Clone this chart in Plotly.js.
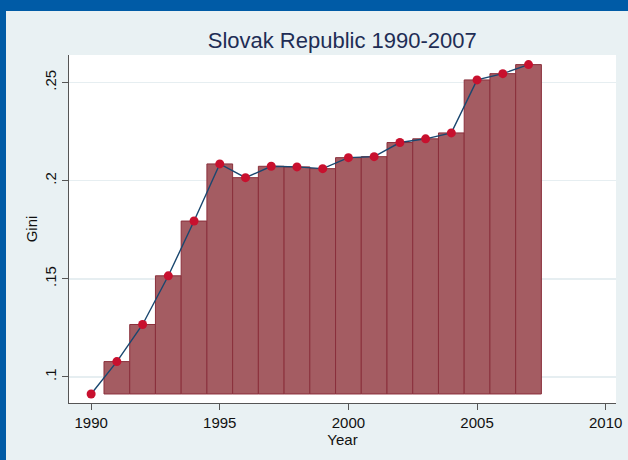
<!DOCTYPE html>
<html>
<head>
<meta charset="utf-8">
<script src="https://cdn.plot.ly/plotly-3.0.1.min.js"></script>
<style>
html,body{margin:0;padding:0;background:#e9f1f3;}
#wrap{position:relative;width:628px;height:460px;overflow:hidden;background:#e9f1f3;}
#topband{position:absolute;left:0;top:0;width:628px;height:11px;background:#005ba6;z-index:5;}
#leftband{position:absolute;left:0;top:0;width:6px;height:460px;background:#005ba6;z-index:5;}
#chart{position:absolute;left:0;top:0;width:628px;height:460px;}
</style>
</head>
<body>
<div id="wrap">
<div id="chart"></div>
<div id="topband"></div>
<div id="leftband"></div>
</div>
<script>
// Data
const years = [1990,1991,1992,1993,1994,1995,1996,1997,1998,1999,2000,2001,2002,2003,2004,2005,2006,2007];
const gini  = [0.0913,0.1078,0.1267,0.1515,0.1794,0.2085,0.2015,0.2073,0.2070,0.2061,0.2117,0.2122,0.2194,0.2213,0.2243,0.2513,0.2545,0.2591];
const yTickVals = [0.1,0.15,0.2,0.25];
const yTickText = ['.1','.15','.2','.25'];
const xTickVals = [1990,1995,2000,2005,2010];
const xTickText = ['1990','1995','2000','2005','2010'];
const chartTitle = 'Slovak Republic 1990-2007';
const xTitle = 'Year';
const yTitle = 'Gini';

const base = Math.min(...gini);
const barYears = years.filter((y,i)=>gini[i] > base);
const barHeights = gini.filter(v=>v > base).map(v=>v-base);

const font = 'Liberation Sans, Arial, Helvetica, sans-serif';

const traces = [
  {
    type:'bar', x:barYears, y:barHeights, base:base, width:1,
    marker:{color:'#a45c62', line:{color:'#8a2f3b', width:1}},
    hoverinfo:'skip', showlegend:false
  },
  {
    type:'scatter', mode:'lines+markers', x:years, y:gini,
    line:{color:'#1a476f', width:1.4},
    marker:{color:'#c8102e', size:9},
    showlegend:false
  }
];

const layout = {
  width:628, height:460,
  paper_bgcolor:'#e9f1f3', plot_bgcolor:'#ffffff',
  margin:{l:69, r:12, t:55, b:57},
  bargap:0,
  title:{text:chartTitle, font:{family:font, size:22, color:'#1e2d55'}, x:0.545, xanchor:'center', y:0.912, yanchor:'middle'},
  xaxis:{
    range:[1989.14, 2010.4], tickvals:xTickVals, ticktext:xTickText,
    ticks:'outside', ticklen:6, tickcolor:'#555', tickwidth:1,
    showline:true, linecolor:'#555', linewidth:1.2,
    showgrid:false, zeroline:false,
    tickfont:{family:font, size:15, color:'#111'},
    title:{text:xTitle, font:{family:font, size:15, color:'#111'}, standoff:0}
  },
  yaxis:{
    range:[0.0867, 0.264], tickvals:yTickVals, ticktext:yTickText,
    ticks:'outside', ticklen:6, tickcolor:'#555', tickwidth:1,
    showline:true, linecolor:'#555', linewidth:1.2,
    showgrid:true, gridcolor:'#e6eef1', gridwidth:1.5, zeroline:false,
    tickangle:-90,
    tickfont:{family:font, size:15, color:'#111'},
    title:{text:yTitle, font:{family:font, size:15, color:'#111'}, standoff:0}
  }
};

Plotly.newPlot('chart', traces, layout, {displayModeBar:false, staticPlot:true});
</script>
</body>
</html>
